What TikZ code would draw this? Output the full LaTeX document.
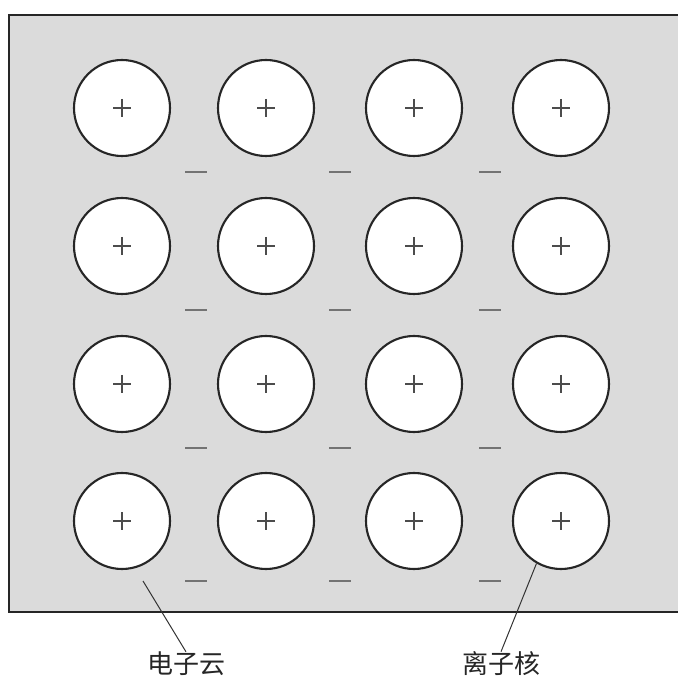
\documentclass[tikz,border=0pt]{standalone}
\usepackage{fontspec}
\newfontfamily\cjk{Noto Sans CJK SC}
\begin{document}
\begin{tikzpicture}[x=1pt,y=-1pt,
  ion/.style={circle,draw=black!85,line width=2.1pt,fill=white,minimum size=96pt,inner sep=0pt},
  plussign/.style={draw=black!70,line width=1.5pt},
  minussign/.style={draw=black!55,line width=2.6pt},
  leader/.style={draw=black!80,line width=1pt},
  lbl/.style={font=\cjk\fontsize{26}{28}\selectfont,text=black!85,inner sep=0pt}]
\useasboundingbox (0,0) rectangle (678,676);
\fill[black!14] (9,15) rectangle (678,612);
\draw[black!85,line width=2.4pt] (678,15) -- (9,15) -- (9,612) -- (678,612);
\foreach \x [count=\i] in {122,266,414,561}{
  \foreach \y [count=\j] in {108,246,384,521}{
    \node[ion] (c\i\j) at (\x,\y) {};
    \draw[plussign] (\x-9,\y) -- (\x+9,\y) (\x,\y-9) -- (\x,\y+9);
  }
}
\foreach \x in {196,340,490}{
  \foreach \y in {172,310,448,581}{
    \draw[minussign] (\x-11,\y) -- (\x+11,\y);
  }
}
\node[lbl] (e) at (186,664) {电子云};
\node[lbl] (n) at (501,664) {离子核};
\coordinate (ecloud) at (143,581);
\draw[leader] (ecloud) -- (e.north);
\draw[leader] (c44.240) -- (n.north);
\end{tikzpicture}
\end{document}
